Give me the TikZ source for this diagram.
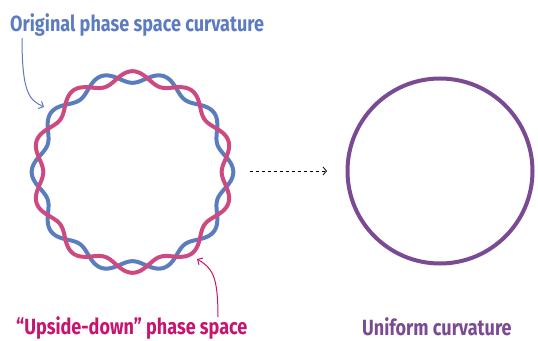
\documentclass[tikz,border=0pt]{standalone}
\usepackage{fontspec}
\setmainfont{Fira Sans}
\newfontfamily\labfont[FakeStretch=0.82]{Fira Sans}
\usetikzlibrary{arrows.meta}
\definecolor{cblue}{HTML}{5A7DBF}
\definecolor{cred}{HTML}{CC4A7F}
\definecolor{tblue}{HTML}{5B7CC0}
\definecolor{tred}{HTML}{C8136F}
\definecolor{cpurple}{HTML}{7A4A92}
\tikzset{
  lab/.style={font=\labfont\bfseries\fontsize{22}{25}\selectfont, anchor=base west, inner sep=0pt},
  wave/.style={line width=4pt, line join=round},
  pointer/.style={line width=1pt, -{Straight Barb[length=4pt,width=8pt]}},
}
\begin{document}
\begin{tikzpicture}[x=1pt,y=-1pt]
\useasboundingbox (0,0) rectangle (538,340);
% wavy circles
\draw[wave, cblue] plot[domain=0:360, samples=361, smooth]
  ({132.5 + (95 - 5.8*cos(10*(\x-90)))*cos(\x)}, {172 - (95 - 5.8*cos(10*(\x-90)))*sin(\x)}) -- cycle;
\draw[wave, cred] plot[domain=0:360, samples=361, smooth]
  ({132.5 + (95 + 5.8*cos(10*(\x-90)))*cos(\x)}, {172 - (95 + 5.8*cos(10*(\x-90)))*sin(\x)}) -- cycle;
% uniform circle
\node[draw=cpurple, line width=4pt, circle, minimum size=185pt, inner sep=0pt] (uni) at (440,171) {};
% labels
\node[lab, text=tblue] (orig) at (10,31) {Original phase space curvature};
\node[lab, text=tred] (upside) at (16,334) {“Upside-down” phase space};
\node[lab, text=cpurple] (unilab) at (362,335) {Uniform curvature};
% pointers
\coordinate (bs) at (22,38);
\coordinate (be) at (44,107);
\draw[pointer, cblue] (bs) .. controls (22,95) and (30,100) .. (be);
\coordinate (rs) at (218,317);
\coordinate (re) at (197,259);
\draw[pointer, tred] (rs) .. controls (218,275) and (212,268) .. (re);
% dotted arrow
\coordinate (ds) at (250,171);
\coordinate (de) at (327,171);
\draw[line width=0.8pt, dash pattern=on 3pt off 3pt, -{Straight Barb[length=3.5pt,width=8pt]}] (ds) -- (de);
\end{tikzpicture}
\end{document}
